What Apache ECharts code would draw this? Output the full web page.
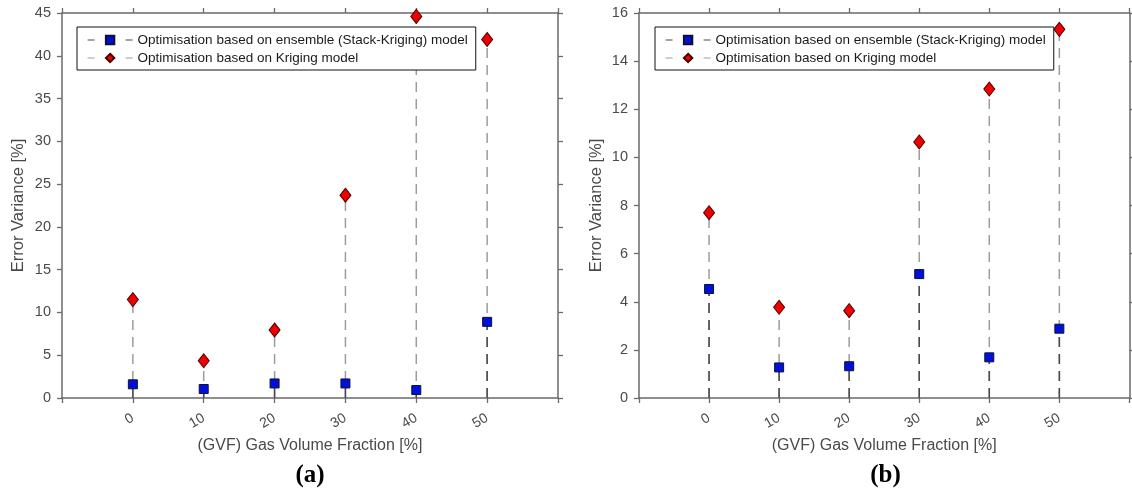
<!DOCTYPE html>
<html>
<head>
<meta charset="utf-8">
<script src="https://cdn.jsdelivr.net/npm/echarts@6/dist/echarts.min.js"></script>
<style>
  html, body { margin: 0; padding: 0; background: #ffffff; }
  #chart { width: 1132px; height: 494px; }
</style>
</head>
<body>
<div id="chart"></div>
<script>
// Gas volume fraction categories (x positions, %)
const gvf = [0, 10, 20, 30, 40, 50];

// Panel (a): error variance [%]
const stackKrigingA = [1.6, 1.05, 1.7, 1.7, 0.93, 8.9];
const krigingA = [11.5, 4.35, 7.95, 23.7, 44.6, 41.9];

// Panel (b): error variance [%]
const stackKrigingB = [4.53, 1.27, 1.32, 5.15, 1.69, 2.88];
const krigingB = [7.7, 3.77, 3.63, 10.64, 12.84, 15.32];

// Axis ranges / tick steps
const xRange = [-10, 60, 10];
const yRangeA = [0, 45, 5];
const yRangeB = [0, 16, 2];

const NAME_STACK = 'Optimisation based on ensemble (Stack-Kriging) model';
const NAME_KRIG = 'Optimisation based on Kriging model';
const panelLabels = ['(a)', '(b)'];
const xTitle = '(GVF) Gas Volume Fraction [%]';
const yTitle = 'Error Variance [%]';

const FONT = 'Liberation Sans, Arial, sans-serif';
const AXIS_COLOR = '#6a6a6a';
const TEXT_COLOR = '#4a4a4a';
const DARK_STEM = '#4a4a4a';
const LIGHT_STEM = '#9c9c9c';
const BLUE = '#0010dc';
const RED = '#f00000';

const grids = [
  { left: 62, top: 13, width: 496, height: 385 },
  { left: 639, top: 13, width: 493, height: 385 }
];

function pairs(ys) { return gvf.map((x, i) => [x, ys[i]]); }

function xAxes(gridIndex) {
  const common = {
    type: 'value', gridIndex, min: xRange[0], max: xRange[1], interval: xRange[2],
    axisLine: { show: true, onZero: false, lineStyle: { color: AXIS_COLOR, width: 1.5 } },
    axisTick: { show: true, inside: false, length: 5, lineStyle: { color: AXIS_COLOR, width: 1.3 } },
    splitLine: { show: false }
  };
  return [
    Object.assign({}, common, {
      position: 'bottom',
      axisLabel: {
        show: true, rotate: 30, margin: 19, color: TEXT_COLOR, fontFamily: FONT, fontSize: 14,
        formatter: v => (gvf.indexOf(v) >= 0 ? String(v) : '')
      },
      name: xTitle, nameLocation: 'middle', nameGap: 34,
      nameTextStyle: { color: TEXT_COLOR, fontFamily: FONT, fontSize: 16 }
    }),
    Object.assign({}, common, { position: 'top', axisLabel: { show: false } })
  ];
}

function yAxes(gridIndex, range, gap) {
  const common = {
    type: 'value', gridIndex, min: range[0], max: range[1], interval: range[2],
    axisLine: { show: true, onZero: false, lineStyle: { color: AXIS_COLOR, width: 1.5 } },
    axisTick: { show: true, inside: false, length: 5, lineStyle: { color: AXIS_COLOR, width: 1.3 } },
    splitLine: { show: false }
  };
  return [
    Object.assign({}, common, {
      position: 'left',
      axisLabel: { show: true, margin: 11, color: TEXT_COLOR, fontFamily: FONT, fontSize: 14.5 },
      name: yTitle, nameLocation: 'middle', nameGap: gap,
      nameTextStyle: { color: TEXT_COLOR, fontFamily: FONT, fontSize: 16.5 }
    }),
    Object.assign({}, common, { position: 'right', axisLabel: { show: false } })
  ];
}

// Vertical dashed stem from zero up to each value
function stemSeries(ys, axisIdx, color) {
  return {
    type: 'custom',
    xAxisIndex: axisIdx, yAxisIndex: axisIdx,
    z: 1, silent: true,
    data: pairs(ys),
    encode: { x: 0, y: 1 },
    renderItem: (params, api) => {
      const p0 = api.coord([api.value(0), 0]);
      const p1 = api.coord([api.value(0), api.value(1)]);
      return {
        type: 'line',
        shape: { x1: p0[0], y1: p0[1], x2: p1[0], y2: p1[1] },
        style: { stroke: color, lineWidth: 1.5, lineDash: [10, 7] }
      };
    }
  };
}

function markerSeries(name, ys, axisIdx, kind) {
  const isSquare = kind === 'square';
  return {
    type: 'line', name,
    xAxisIndex: axisIdx, yAxisIndex: axisIdx,
    z: 3, silent: true,
    data: pairs(ys),
    symbol: isSquare ? 'rect' : 'diamond',
    symbolSize: isSquare ? 9 : [11, 14],
    showSymbol: true,
    lineStyle: { width: 0, opacity: 0, color: isSquare ? DARK_STEM : LIGHT_STEM },
    itemStyle: {
      color: isSquare ? BLUE : RED,
      borderColor: isSquare ? '#101030' : '#4a0000',
      borderWidth: 1
    },
    emphasis: { disabled: true },
    animation: false
  };
}

function legendFor(left) {
  return {
    orient: 'vertical', left, top: 27,
    backgroundColor: '#ffffff', borderColor: '#111111', borderWidth: 1,
    padding: [6, 8, 5, 10], itemGap: 4,
    itemWidth: 45, itemHeight: 10.5,
    selectedMode: false,
    textStyle: { color: '#1a1a1a', fontFamily: FONT, fontSize: 13.5 },
    data: [
      { name: NAME_STACK, lineStyle: { color: DARK_STEM, width: 1.2, type: [7, 12], opacity: 1 } },
      { name: NAME_KRIG, lineStyle: { color: LIGHT_STEM, width: 1.2, type: [7, 12], opacity: 1 } }
    ]
  };
}

const chart = echarts.init(document.getElementById('chart'), null, { renderer: 'canvas' });

chart.setOption({
  backgroundColor: '#ffffff',
  animation: false,
  grid: grids,
  xAxis: [...xAxes(0), ...xAxes(1)],
  yAxis: [...yAxes(0, yRangeA, 35), ...yAxes(1, yRangeB, 34)],
  legend: [legendFor(77), legendFor(655)],
  series: [
    markerSeries(NAME_STACK, stackKrigingA, 0, 'square'),
    markerSeries(NAME_KRIG, krigingA, 0, 'diamond'),
    stemSeries(krigingA, 0, LIGHT_STEM),
    stemSeries(stackKrigingA, 0, DARK_STEM),
    markerSeries(NAME_STACK, stackKrigingB, 2, 'square'),
    markerSeries(NAME_KRIG, krigingB, 2, 'diamond'),
    stemSeries(krigingB, 2, LIGHT_STEM),
    stemSeries(stackKrigingB, 2, DARK_STEM)
  ],
  graphic: panelLabels.map((t, i) => ({
    type: 'text',
    x: grids[i].left + grids[i].width / 2,
    y: 476,
    style: {
      text: t, fill: '#000000',
      font: 'bold 25px "Liberation Serif", "Times New Roman", serif',
      align: 'center', verticalAlign: 'middle',
      textAlign: 'center', textVerticalAlign: 'middle'
    }
  }))
});
</script>
</body>
</html>
